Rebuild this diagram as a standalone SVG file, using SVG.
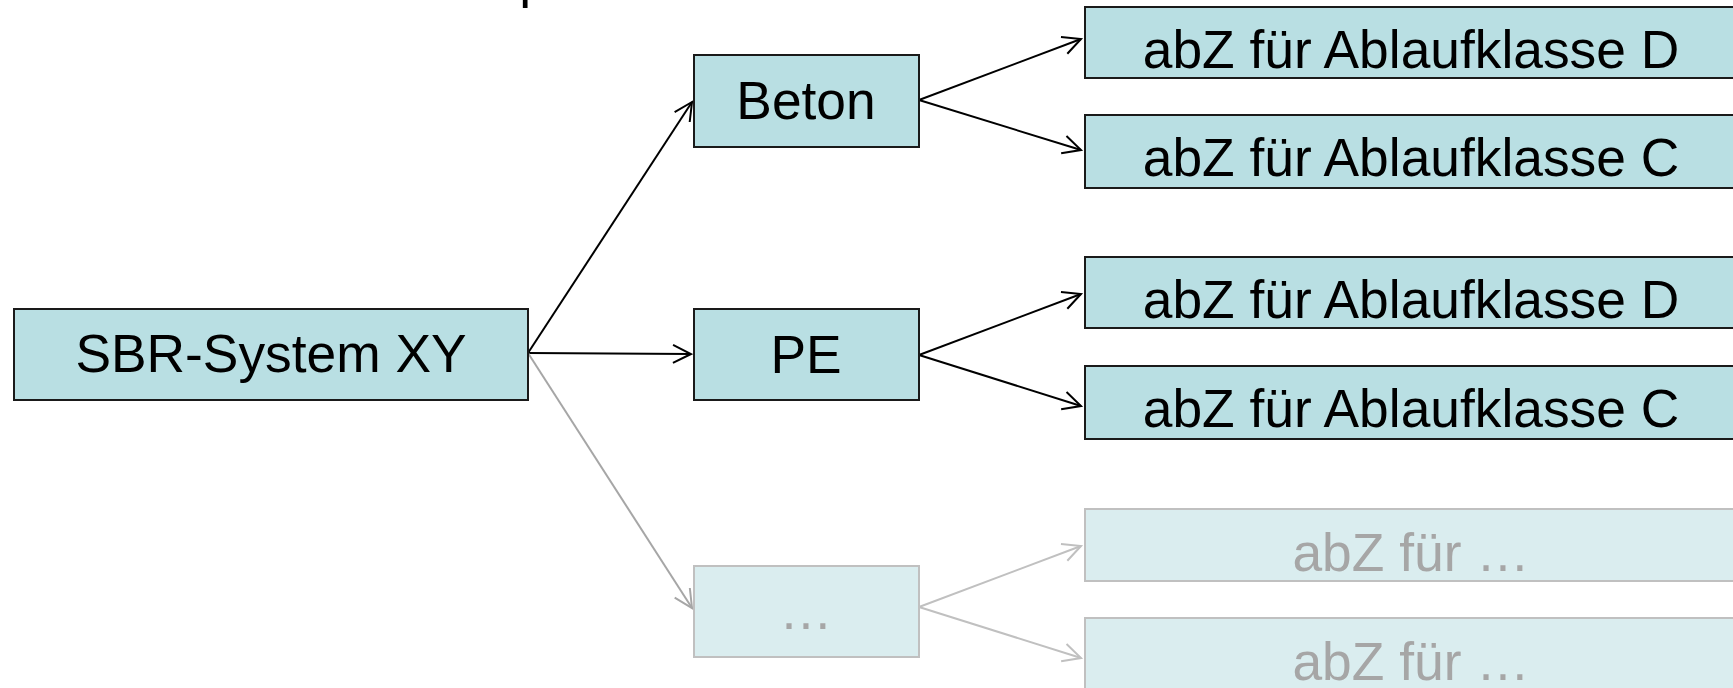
<svg xmlns="http://www.w3.org/2000/svg" width="1733" height="688" viewBox="0 0 1733 688">
<style>
  text { font-family: "Liberation Sans", Arial, sans-serif; font-size: 53.33px; text-anchor: middle; }
  .box { fill: #B9DFE3; stroke: #1A1A1A; stroke-width: 2; }
  .fbox { fill: #DAEDEF; stroke: #C0C0C0; stroke-width: 2; }
  .t { fill: #000000; }
  .ft { fill: #A6A6A6; }
  .c { fill: none; stroke: #000000; stroke-width: 2; }
  .cg1 { fill: none; stroke: #A6A6A6; stroke-width: 2; }
  .cg2 { fill: none; stroke: #C0C0C0; stroke-width: 2; }
</style>
<defs>
  <marker id="ah" markerUnits="userSpaceOnUse" viewBox="-22 -12 24 24" refX="0" refY="0" markerWidth="24" markerHeight="24" orient="auto">
    <path d="M -18 -9 L 0 0 L -18 9" fill="none" stroke="#000000" stroke-width="2"/>
  </marker>
  <marker id="ahg1" markerUnits="userSpaceOnUse" viewBox="-22 -12 24 24" refX="0" refY="0" markerWidth="24" markerHeight="24" orient="auto">
    <path d="M -18 -9 L 0 0 L -18 9" fill="none" stroke="#A6A6A6" stroke-width="2"/>
  </marker>
  <marker id="ahg2" markerUnits="userSpaceOnUse" viewBox="-22 -12 24 24" refX="0" refY="0" markerWidth="24" markerHeight="24" orient="auto">
    <path d="M -18 -9 L 0 0 L -18 9" fill="none" stroke="#C0C0C0" stroke-width="2"/>
  </marker>
</defs>
<rect width="1733" height="688" fill="#FFFFFF"/>
<text class="t" x="534" y="-3">p</text>

<g id="connectors">
  <line class="c" x1="528" y1="353" x2="692" y2="102" marker-end="url(#ah)"/>
  <line class="c" x1="528" y1="353" x2="691" y2="354" marker-end="url(#ah)"/>
  <line class="cg1" x1="528" y1="353" x2="692" y2="608" marker-end="url(#ahg1)"/>
  <line class="c" x1="919" y1="100" x2="1081" y2="39" marker-end="url(#ah)"/>
  <line class="c" x1="919" y1="100" x2="1081" y2="150" marker-end="url(#ah)"/>
  <line class="c" x1="919" y1="355" x2="1081" y2="294" marker-end="url(#ah)"/>
  <line class="c" x1="919" y1="355" x2="1081" y2="406" marker-end="url(#ah)"/>
  <line class="cg2" x1="919" y1="607" x2="1081" y2="546" marker-end="url(#ahg2)"/>
  <line class="cg2" x1="919" y1="607" x2="1081" y2="658" marker-end="url(#ahg2)"/>
</g>

<g id="sbr">
  <rect class="box" x="14" y="309" width="514" height="91"/>
  <text class="t" x="271" y="372">SBR-System XY</text>
</g>
<g id="beton">
  <rect class="box" x="694" y="55" width="225" height="92"/>
  <text class="t" x="806" y="119">Beton</text>
</g>
<g id="pe">
  <rect class="box" x="694" y="309" width="225" height="91"/>
  <text class="t" x="806" y="373">PE</text>
</g>
<g id="more">
  <rect class="fbox" x="694" y="566" width="225" height="91"/>
  <text class="ft" x="806" y="629">…</text>
</g>
<g id="beton-d">
  <rect class="box" x="1085" y="7" width="660" height="71"/>
  <text class="t" x="1411" y="68">abZ für Ablaufklasse D</text>
</g>
<g id="beton-c">
  <rect class="box" x="1085" y="115" width="660" height="73"/>
  <text class="t" x="1411" y="176">abZ für Ablaufklasse C</text>
</g>
<g id="pe-d">
  <rect class="box" x="1085" y="257" width="660" height="71"/>
  <text class="t" x="1411" y="318">abZ für Ablaufklasse D</text>
</g>
<g id="pe-c">
  <rect class="box" x="1085" y="366" width="660" height="73"/>
  <text class="t" x="1411" y="427">abZ für Ablaufklasse C</text>
</g>
<g id="more-1">
  <rect class="fbox" x="1085" y="509" width="660" height="72"/>
  <text class="ft" x="1411" y="571">abZ für …</text>
</g>
<g id="more-2">
  <rect class="fbox" x="1085" y="618" width="660" height="80"/>
  <text class="ft" x="1411" y="680">abZ für …</text>
</g>
</svg>
